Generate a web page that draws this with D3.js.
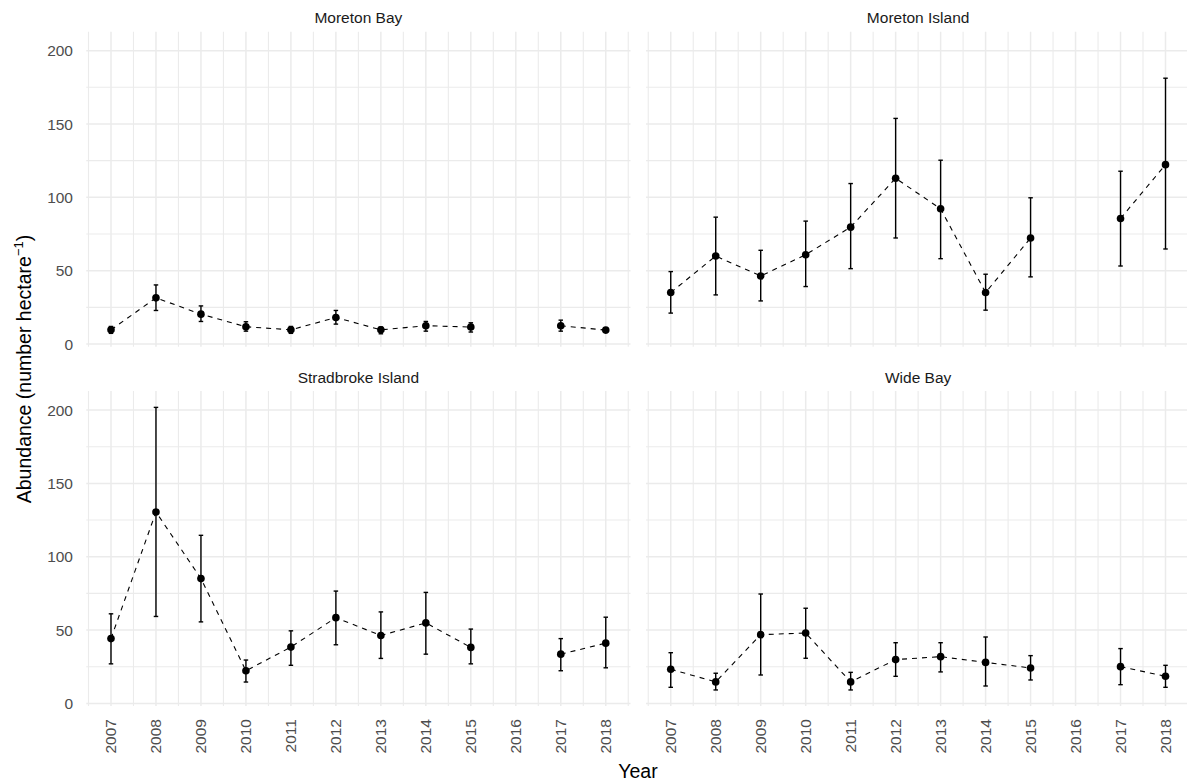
<!DOCTYPE html>
<html>
<head>
<meta charset="utf-8">
<script src="https://cdn.jsdelivr.net/npm/d3@7"></script>
<style>
  body { margin: 0; background: #fff; }
  svg text { font-family: "Liberation Sans", Arial, sans-serif; }
</style>
</head>
<body>
<div id="chart"></div>
<script>
"use strict";

// data (2016 has no survey)
const years = [2007, 2008, 2009, 2010, 2011, 2012, 2013, 2014, 2015, 2016, 2017, 2018];
const sites = ["Moreton Bay", "Moreton Island", "Stradbroke Island", "Wide Bay"];

const moretonBayMean  = [9.7, 31.5, 20.4, 11.8, 9.7, 18.1, 9.7, 12.5, 11.6, null, 12.5, 9.5];
const moretonBayLow   = [7.3, 22.9, 15.4, 8.8, 7.3, 13.6, 7.0, 8.8, 8.2, null, 8.8, 7.9];
const moretonBayHigh  = [12.0, 40.3, 26.0, 15.2, 12.0, 22.9, 11.6, 15.4, 14.5, null, 16.3, 11.0];

const moretonIslMean  = [35.1, 60.0, 46.4, 60.9, 79.7, 113.0, 92.2, 35.1, 72.3, null, 85.6, 122.3];
const moretonIslLow   = [21.1, 33.5, 29.4, 39.2, 51.4, 72.3, 58.2, 23.1, 45.8, null, 53.2, 64.8];
const moretonIslHigh  = [49.4, 86.5, 63.9, 83.8, 109.4, 153.8, 125.3, 47.6, 99.7, null, 117.8, 181.2];

const stradbrokeMean  = [44.2, 130.5, 85.1, 22.3, 38.4, 58.5, 46.3, 54.9, 38.2, null, 33.6, 41.1];
const stradbrokeLow   = [27.0, 59.3, 55.6, 14.6, 26.0, 40.0, 30.7, 33.6, 27.0, null, 22.3, 24.3];
const stradbrokeHigh  = [61.1, 201.8, 114.6, 29.6, 49.5, 76.6, 62.4, 75.7, 50.7, null, 44.2, 58.8];

const wideBayMean     = [23.3, 14.7, 46.9, 48.0, 14.7, 29.9, 31.9, 28.0, 24.2, null, 25.1, 18.5];
const wideBayLow      = [11.0, 9.2, 19.4, 30.8, 9.2, 18.5, 21.5, 11.9, 16.0, null, 12.8, 11.0];
const wideBayHigh     = [34.6, 20.6, 74.6, 64.9, 21.2, 41.4, 41.4, 45.3, 32.6, null, 37.4, 26.0];

const yTicks = [0, 50, 100, 150, 200];
const yMinor = [25, 75, 125, 175];

const msm = {
    width: 1187,
    height: 783,
    panelW: 544.25,
    panelH: 315,
    left: [86.25, 646],
    top: [31.7, 391.1]
};

const seriesBySite = [
    { mean: moretonBayMean, low: moretonBayLow, high: moretonBayHigh },
    { mean: moretonIslMean, low: moretonIslLow, high: moretonIslHigh },
    { mean: stradbrokeMean, low: stradbrokeLow, high: stradbrokeHigh },
    { mean: wideBayMean, low: wideBayLow, high: wideBayHigh }
];

const svg = d3.select("#chart")
    .append("svg")
    .attr("width", msm.width)
    .attr("height", msm.height);

const gridColor = "#ebebeb";

sites.forEach(function (site, i) {
    const col = i % 2;
    const row = Math.floor(i / 2);
    const x0 = msm.left[col];
    const y0 = msm.top[row];

    const xScale = d3.scaleLinear()
        .domain([2006.45, 2018.55])
        .range([x0, x0 + msm.panelW]);
    const yScale = d3.scaleLinear()
        .domain([-1.8, 212.9])
        .range([y0 + msm.panelH, y0]);

    const g = svg.append("g");

    // minor grid
    const halfYears = d3.range(2006.5, 2019, 1);
    g.selectAll(".vminor").data(halfYears).enter().append("line")
        .attr("x1", d => xScale(d)).attr("x2", d => xScale(d))
        .attr("y1", y0).attr("y2", y0 + msm.panelH)
        .attr("stroke", gridColor).attr("stroke-width", 1.1);
    g.selectAll(".hminor").data(yMinor).enter().append("line")
        .attr("x1", x0).attr("x2", x0 + msm.panelW)
        .attr("y1", d => yScale(d)).attr("y2", d => yScale(d))
        .attr("stroke", gridColor).attr("stroke-width", 1.1);
    // major grid
    g.selectAll(".vmajor").data(years).enter().append("line")
        .attr("x1", d => xScale(d)).attr("x2", d => xScale(d))
        .attr("y1", y0).attr("y2", y0 + msm.panelH)
        .attr("stroke", gridColor).attr("stroke-width", 1.5);
    g.selectAll(".hmajor").data(yTicks).enter().append("line")
        .attr("x1", x0).attr("x2", x0 + msm.panelW)
        .attr("y1", d => yScale(d)).attr("y2", d => yScale(d))
        .attr("stroke", gridColor).attr("stroke-width", 1.5);

    // strip title
    svg.append("text")
        .attr("x", x0 + msm.panelW / 2)
        .attr("y", y0 - 8.5)
        .attr("text-anchor", "middle")
        .style("font-size", "15.5px")
        .style("fill", "#1a1a1a")
        .text(site);

    // y axis labels on left column
    if (col === 0) {
        svg.selectAll(null).data(yTicks).enter().append("text")
            .attr("x", 73)
            .attr("y", d => yScale(d))
            .attr("dy", "0.36em")
            .attr("text-anchor", "end")
            .style("font-size", "15.5px")
            .style("fill", "#4d4d4d")
            .text(d => d);
    }
    // x axis labels on bottom row
    if (row === 1) {
        svg.selectAll(null).data(years).enter().append("text")
            .attr("transform", d => "translate(" + (xScale(d) + 5.5) + "," + (y0 + msm.panelH + 13) + ") rotate(-90)")
            .attr("text-anchor", "end")
            .style("font-size", "15.5px")
            .style("fill", "#4d4d4d")
            .text(d => d);
    }

    const s = seriesBySite[i];
    const rows = years.map((yr, k) => ({ year: yr, mean: s.mean[k], low: s.low[k], high: s.high[k] }));
    const present = rows.filter(d => d.mean !== null);

    // dashed line, broken where a year is missing
    const line = d3.line()
        .defined(d => d.mean !== null)
        .x(d => xScale(d.year))
        .y(d => yScale(d.mean));
    g.append("path")
        .datum(rows)
        .attr("d", line)
        .attr("fill", "none")
        .attr("stroke", "#000")
        .attr("stroke-width", 1.1)
        .attr("stroke-dasharray", "5,5");

    // error bars
    const capW = 0.05;
    const eb = g.selectAll(".eb").data(present).enter().append("g");
    eb.append("line")
        .attr("x1", d => xScale(d.year)).attr("x2", d => xScale(d.year))
        .attr("y1", d => yScale(d.low)).attr("y2", d => yScale(d.high))
        .attr("stroke", "#000").attr("stroke-width", 1.4);
    eb.append("line")
        .attr("x1", d => xScale(d.year - capW)).attr("x2", d => xScale(d.year + capW))
        .attr("y1", d => yScale(d.low)).attr("y2", d => yScale(d.low))
        .attr("stroke", "#000").attr("stroke-width", 1.4);
    eb.append("line")
        .attr("x1", d => xScale(d.year - capW)).attr("x2", d => xScale(d.year + capW))
        .attr("y1", d => yScale(d.high)).attr("y2", d => yScale(d.high))
        .attr("stroke", "#000").attr("stroke-width", 1.4);

    // points
    g.selectAll(".pt").data(present).enter().append("circle")
        .attr("cx", d => xScale(d.year))
        .attr("cy", d => yScale(d.mean))
        .attr("r", 3.8)
        .attr("fill", "#000");
});

// axis titles
svg.append("text")
    .attr("x", 638)
    .attr("y", 778)
    .attr("text-anchor", "middle")
    .style("font-size", "19.5px")
    .style("fill", "#000")
    .text("Year");

const yTitle = svg.append("text")
    .attr("transform", "translate(31,369) rotate(-90)")
    .attr("text-anchor", "middle")
    .style("font-size", "19.5px")
    .style("fill", "#000");
yTitle.append("tspan").text("Abundance (number hectare");
yTitle.append("tspan").attr("dy", -8).style("font-size", "13px").text("\u22121");
yTitle.append("tspan").attr("dy", 8).text(")");
</script>
</body>
</html>
